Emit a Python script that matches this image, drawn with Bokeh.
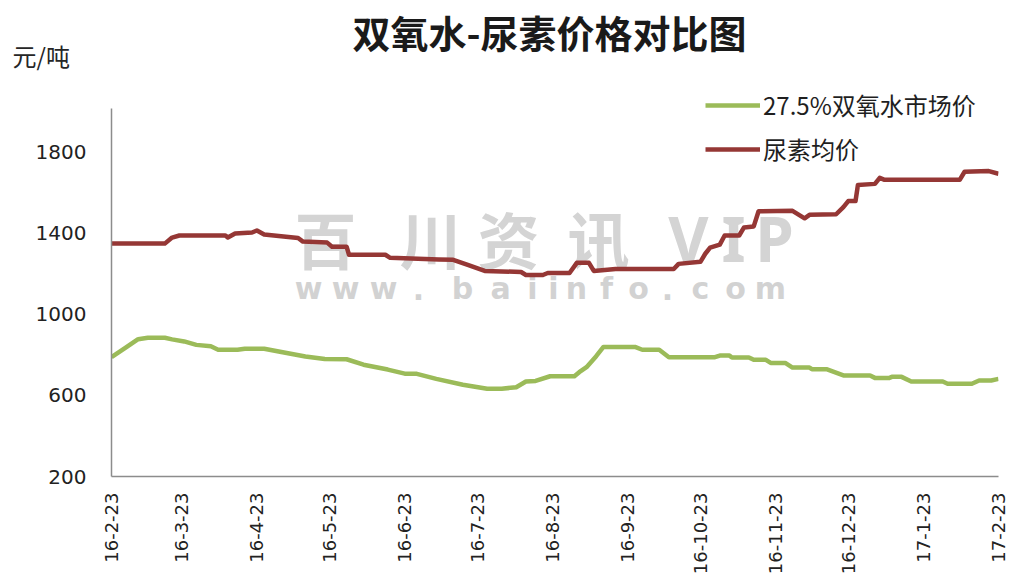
import math
import pandas as pd
from bokeh.plotting import figure
from bokeh.models import (ColumnDataSource, Range1d, FixedTicker, Legend, LegendItem,
                          Label, Title)
from bokeh.embed import file_html
from bokeh.resources import INLINE

START = "2016-02-23"

tick_dates = ["2016-02-23", "2016-03-23", "2016-04-23", "2016-05-23", "2016-06-23",
              "2016-07-23", "2016-08-23", "2016-09-23", "2016-10-23", "2016-11-23",
              "2016-12-23", "2017-01-23", "2017-02-23"]
tick_labels = ["16-2-23", "16-3-23", "16-4-23", "16-5-23", "16-6-23", "16-7-23",
               "16-8-23", "16-9-23", "16-10-23", "16-11-23", "16-12-23", "17-1-23", "17-2-23"]
y_ticks = [200, 600, 1000, 1400, 1800]

h2o2_dates = ["2016-02-23", "2016-02-29", "2016-03-05", "2016-03-09", "2016-03-16", "2016-03-19",
              "2016-03-24", "2016-03-29", "2016-04-04", "2016-04-07", "2016-04-15", "2016-04-18",
              "2016-04-26", "2016-05-02", "2016-05-13", "2016-05-21", "2016-05-30", "2016-06-06",
              "2016-06-16", "2016-06-23", "2016-06-28", "2016-07-06", "2016-07-17", "2016-07-27",
              "2016-08-02", "2016-08-08", "2016-08-12", "2016-08-16", "2016-08-22", "2016-09-01",
              "2016-09-03", "2016-09-06", "2016-09-10", "2016-09-13", "2016-09-26", "2016-09-29",
              "2016-10-06", "2016-10-10", "2016-10-29", "2016-10-31", "2016-11-04", "2016-11-05",
              "2016-11-12", "2016-11-14", "2016-11-19", "2016-11-21", "2016-11-27", "2016-11-30",
              "2016-12-07", "2016-12-08", "2016-12-14", "2016-12-21", "2017-01-01", "2017-01-03",
              "2017-01-09", "2017-01-10", "2017-01-14", "2017-01-18", "2017-01-31", "2017-02-02",
              "2017-02-12", "2017-02-15", "2017-02-20", "2017-02-23"]
h2o2_price = [790, 838, 878, 885, 885, 877,
              867, 850, 843, 826, 826, 831,
              831, 817, 793, 780, 779, 752,
              728, 708, 707, 682, 653, 633,
              633, 641, 669, 672, 695, 695,
              715, 740, 794, 840, 840, 826,
              826, 789, 789, 797, 797, 788,
              788, 776, 776, 761, 761, 738,
              738, 730, 730, 699, 699, 687,
              687, 692, 692, 669, 669, 658,
              658, 674, 674, 682]

urea_dates = ["2016-02-23", "2016-03-16", "2016-03-19", "2016-03-22", "2016-04-10", "2016-04-11",
              "2016-04-14", "2016-04-21", "2016-04-23", "2016-04-26", "2016-05-04", "2016-05-10",
              "2016-05-12", "2016-05-22", "2016-05-24", "2016-05-30", "2016-05-31", "2016-06-15",
              "2016-06-17", "2016-07-07", "2016-07-13", "2016-07-19", "2016-07-26", "2016-08-10",
              "2016-08-12", "2016-08-19", "2016-08-21", "2016-08-30", "2016-09-02", "2016-09-07",
              "2016-09-09", "2016-09-18", "2016-10-12", "2016-10-14", "2016-10-23", "2016-10-25",
              "2016-10-27", "2016-10-31", "2016-11-02", "2016-11-08", "2016-11-10", "2016-11-14",
              "2016-11-16", "2016-11-30", "2016-12-05", "2016-12-07", "2016-12-18", "2016-12-21",
              "2016-12-23", "2016-12-26", "2016-12-27", "2017-01-03", "2017-01-05", "2017-01-07",
              "2017-02-07", "2017-02-09", "2017-02-19", "2017-02-23"]
urea_price = [1350, 1350, 1380, 1390, 1390, 1380,
              1400, 1405, 1415, 1395, 1385, 1378,
              1360, 1355, 1335, 1335, 1295, 1295,
              1280, 1272, 1270, 1245, 1215, 1210,
              1195, 1195, 1205, 1205, 1255, 1255,
              1215, 1225, 1225, 1250, 1260, 1300,
              1330, 1345, 1390, 1390, 1430, 1435,
              1510, 1512, 1475, 1492, 1495, 1530,
              1560, 1560, 1640, 1645, 1675, 1665,
              1665, 1705, 1708, 1695]

t0 = pd.Timestamp(START)


def days(ds):
    return [(pd.Timestamp(d) - t0).days for d in ds]


CJK = "Noto Sans CJK SC"
GREEN = "#9bbb59"
RED = "#953735"

# frame: left 111, right 998, top 72, bottom 476 (canvas px); 400 units = 81 px
p = figure(width=1010, height=580, output_backend="svg", toolbar_location=None,
           x_range=Range1d(0, 366), y_range=Range1d(200, 2195),
           min_border_left=111, min_border_right=12, min_border_top=72, min_border_bottom=104)
p.outline_line_color = None
p.background_fill_color = "white"
p.border_fill_color = "white"
p.xgrid.visible = False
p.ygrid.visible = False

src_g = ColumnDataSource(dict(x=days(h2o2_dates), y=h2o2_price))
src_r = ColumnDataSource(dict(x=days(urea_dates), y=urea_price))
g = p.line("x", "y", source=src_g, line_color=GREEN, line_width=4.5, line_join="round")
r = p.line("x", "y", source=src_r, line_color=RED, line_width=4.5, line_join="round")

tick_pos = days(tick_dates)
p.xaxis.ticker = FixedTicker(ticks=tick_pos)
p.xaxis.major_label_overrides = {t: lab for t, lab in zip(tick_pos, tick_labels)}
p.xaxis.major_label_orientation = math.pi / 2
p.yaxis.ticker = FixedTicker(ticks=y_ticks)
p.yaxis.bounds = (200, 2017)
for ax in (p.xaxis, p.yaxis):
    ax.axis_line_color = "#8c8c8c"
    ax.axis_line_width = 1.5
    ax.major_tick_line_color = None
    ax.minor_tick_line_color = None
    ax.major_tick_out = 0
    ax.major_tick_in = 0
    ax.major_label_text_font = "DejaVu Sans"
    ax.major_label_text_color = "#222222"
p.yaxis.major_label_text_font_size = "20px"
p.xaxis.major_label_text_font_size = "18px"
p.yaxis.major_label_standoff = 25
p.xaxis.major_label_standoff = 16

# watermark (behind the lines); positions relative to frame (left 111, bottom 476)
wm_chars = ["百", "川", "资", "讯", "V", "I", "P"]
wm_x = [325, 430, 508, 598, 688, 733, 774]
for ch, sx in zip(wm_chars, wm_x):
    p.add_layout(Label(x=sx - 111, y=476 - 237, x_units="screen", y_units="screen", text=ch,
                       text_align="center", text_baseline="middle", level="underlay",
                       text_font=CJK if ord(ch) > 255 else "Noto Sans", text_font_style="bold",
                       text_font_size="62px", text_color="#d4d4d4"))
url_chars = list("www.baiinfo.com")
url_x = [308, 345, 383, 418, 462, 500, 532, 553, 576, 606, 638, 667, 700, 735, 770]
for ch, sx in zip(url_chars, url_x):
    p.add_layout(Label(x=sx - 111, y=476 - 288, x_units="screen", y_units="screen", text=ch,
                       text_align="center", text_baseline="middle", level="underlay",
                       text_font="DejaVu Sans", text_font_style="bold",
                       text_font_size="30px", text_color="#d2d2d2"))

# unit (nearest the frame) then main title (outermost)
p.add_layout(Title(text="元/吨", align="left", offset=-99, standoff=0,
                   text_font=CJK, text_font_style="normal", text_font_size="24px",
                   text_color="#262626"), "above")
p.add_layout(Title(text="双氧水-尿素价格对比图", align="left", offset=241, standoff=-47,
                   text_font=CJK, text_font_style="bold", text_font_size="38px",
                   text_color="#1a1a1a"), "above")

legend = Legend(items=[LegendItem(label="27.5%双氧水市场价", renderers=[g]),
                       LegendItem(label="尿素均价", renderers=[r])],
                location=(594, 310), orientation="vertical",
                glyph_width=55, glyph_height=24, label_height=35, label_standoff=3,
                spacing=9, padding=0, margin=0,
                border_line_color=None, background_fill_alpha=0,
                label_text_font=CJK, label_text_font_size="24px", label_text_color="#1f1f1f")
p.add_layout(legend)

open("out.html", "w").write(file_html(p, INLINE))
